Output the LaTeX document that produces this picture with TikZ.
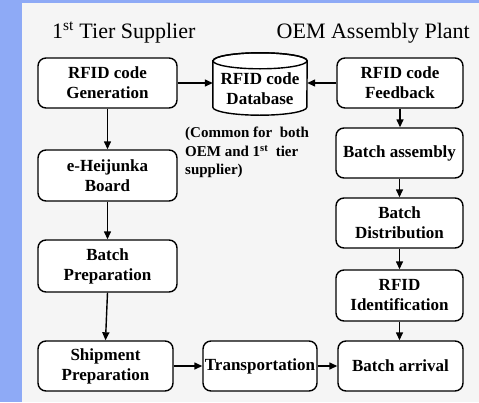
\documentclass[tikz,border=0pt]{standalone}
\usepackage{fontspec}
\setmainfont{Liberation Serif}
\usetikzlibrary{arrows.meta}
\definecolor{bgblue}{RGB}{142,170,246}
\definecolor{panel}{RGB}{245,245,245}
\tikzset{
  box/.style={draw, rounded corners=8pt, line width=1.4pt, fill=white, inner sep=0pt,
    align=center, font=\fontsize{17}{20}\selectfont\bfseries},
  conn/.style={line width=1.4pt, -{Triangle[length=8pt,width=7pt]}},
  header/.style={font=\fontsize{22}{26}\selectfont, inner sep=0pt}
}
\begin{document}
\begin{tikzpicture}[x=1pt,y=-1pt]
\useasboundingbox (0,0) rectangle (479,402);
\fill[bgblue] (0,0) rectangle (479,402);
\fill[panel] (22,3) rectangle (479,402);
% headers
\node[header, anchor=base west] (h1) at (52,38) {1\textsuperscript{st} Tier Supplier};
\node[header, anchor=base east] (h2) at (470,38) {OEM Assembly Plant};
% left column
\node[box, minimum width=139pt, minimum height=50pt] (gen) at (107.5,83) {RFID code\\Generation};
\node[box, minimum width=139pt, minimum height=51pt] (heij) at (107.5,175.5) {e-Heijunka\\Board};
\node[box, minimum width=139pt, minimum height=52pt] (prep) at (107.5,266) {Batch\\Preparation};
\node[box, minimum width=135pt, minimum height=50pt] (ship) at (105.5,366) {Shipment\\Preparation};
\node[box, minimum width=114pt, minimum height=50pt] (trans) at (260,366) {Transportation};
% right column
\node[box, minimum width=126pt, minimum height=50pt] (feed) at (400,83) {RFID code\\Feedback};
\node[box, minimum width=127pt, minimum height=50pt] (assy) at (399.5,153) {Batch assembly};
\node[box, minimum width=127pt, minimum height=50pt] (dist) at (399.5,223) {Batch\\Distribution};
\node[box, minimum width=127pt, minimum height=51pt] (ident) at (399.5,295.5) {RFID\\Identification};
\node[box, minimum width=125pt, minimum height=50pt] (arr) at (400.5,366) {Batch arrival};
% database cylinder
\node[minimum width=94pt, minimum height=62pt, inner sep=0pt] (db) at (260,84) {};
\draw[line width=1.4pt, fill=white] ([yshift=-8pt]db.north west) -- ([yshift=8pt]db.south west)
  arc[start angle=180, end angle=360, x radius=47pt, y radius=8pt]
  -- ([yshift=-8pt]db.north east)
  arc[start angle=0, end angle=180, x radius=47pt, y radius=8pt] -- cycle;
\draw[line width=1.4pt] ([yshift=-8pt]db.north) ellipse[x radius=47pt, y radius=8pt];
\node[align=center, font=\fontsize{17}{20}\selectfont\bfseries, inner sep=0pt] (dbt) at (260,89) {RFID code\\Database};
% note
\node[anchor=north west, align=left, inner sep=0pt,
  font=\fontsize{15}{18.5}\selectfont\bfseries] (note) at (185,127)
  {(Common for\ \ both\\OEM and 1\textsuperscript{st}\ \ tier\\supplier)};
% connectors
\draw[conn] (gen.east) -- (db.west |- gen.east);
\draw[conn] (feed.west) -- (db.east |- feed.west);
\draw[conn] (gen.south) -- (heij.north);
\draw[conn] (heij.south) -- (prep.north);
\draw[conn] (prep.south) -- (ship.north);
\draw[conn] (ship.east) -- (trans.west);
\draw[conn] (trans.east) -- (arr.west);
\draw[conn] (feed.south) -- (feed.south |- assy.north);
\draw[conn] (assy.south) -- (dist.north);
\draw[conn] (dist.south) -- (ident.north);
\draw[conn] (ident.south) -- (ident.south |- arr.north);
\end{tikzpicture}
\end{document}
